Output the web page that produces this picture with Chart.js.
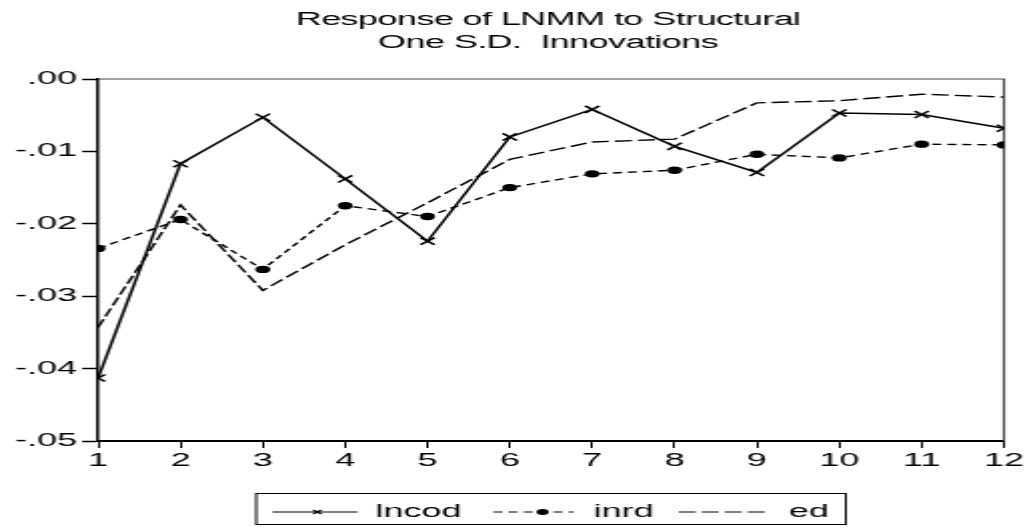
<!DOCTYPE html>
<html>
<head>
<meta charset="utf-8">
<script src="https://cdn.jsdelivr.net/npm/chart.js@4.4.1/dist/chart.umd.min.js"></script>
<style>
html,body{margin:0;padding:0;background:#fff;overflow:hidden}
</style>
</head>
<body>
<canvas id="c" width="515" height="527" style="display:block;width:1031px;height:527px"></canvas>
<script>
// ---- data ----
const periods = ['1','2','3','4','5','6','7','8','9','10','11','12'];
const lncodValues = [-0.0413,-0.0117,-0.0053,-0.0138,-0.0224,-0.0080,-0.0042,-0.0093,-0.0129,-0.0047,-0.0049,-0.0068];
const inrdValues  = [-0.0234,-0.0194,-0.0263,-0.0175,-0.0190,-0.0150,-0.0131,-0.0126,-0.0104,-0.0109,-0.0090,-0.0091];
const edValues    = [-0.0343,-0.0174,-0.0292,-0.0229,-0.0171,-0.0111,-0.0087,-0.0083,-0.0033,-0.0030,-0.0021,-0.0025];
const seriesNames = ['lncod','inrd','ed'];
const titleLines  = ['Response of LNMM to Structural','One S.D.  Innovations'];
const yMin = -0.05, yMax = 0, yStep = 0.01;

const FONT = "'Liberation Sans', Arial, sans-serif";

function fmtTick(v){
  const s = (Math.round(v*100)/100).toFixed(2);
  return s.replace('0.', '.');
}

const framePlugin = {
  id:'frame',
  beforeDatasetsDraw(chart){
    const {ctx, chartArea:a} = chart;
    ctx.save();
    ctx.strokeStyle = '#444';
    ctx.lineWidth = 1.2;
    ctx.beginPath();
    ctx.moveTo(a.left, a.top);
    ctx.lineTo(a.right, a.top);
    ctx.lineTo(a.right, a.bottom);
    ctx.stroke();
    ctx.restore();
  }
};

const titlePlugin = {
  id:'eviewsTitle',
  afterDraw(chart){
    const {ctx, chartArea:a} = chart;
    const cx = (a.left + a.right)/2 - 1.5;
    ctx.save();
    ctx.fillStyle = '#000';
    ctx.font = '18px ' + FONT;
    if ('letterSpacing' in ctx) ctx.letterSpacing = '-0.3px';
    ctx.textAlign = 'center';
    ctx.textBaseline = 'alphabetic';
    ctx.fillText(titleLines[0], cx, 25);
    ctx.fillText(titleLines[1], cx, 48);
    ctx.restore();
  }
};

const legendPlugin = {
  id:'eviewsLegend',
  afterDraw(chart){
    const ctx = chart.ctx;
    const ds = chart.data.datasets;
    const y = 512;
    ctx.save();
    ctx.strokeStyle = '#000';
    ctx.lineWidth = 1;
    ctx.strokeRect(128, 493.5, 294.5, 31);
    const items = [
      {x0:136, x1:178.5, mx:158.5, tx:187.5},
      {x0:246.5, x1:286.5, mx:271, tx:296.5},
      {x0:339, x1:385, mx:null, tx:394}
    ];
    items.forEach((it, i) => {
      const d = ds[i];
      ctx.setLineDash(d.borderDash || []);
      ctx.lineWidth = 1.2;
      ctx.beginPath();
      ctx.moveTo(it.x0, y);
      ctx.lineTo(it.x1, y);
      ctx.stroke();
      ctx.setLineDash([]);
      if (it.mx !== null) {
        if (d.pointStyle === 'crossRot') {
          ctx.lineWidth = 1.1;
          ctx.beginPath();
          ctx.moveTo(it.mx-2, y-2); ctx.lineTo(it.mx+2, y+2);
          ctx.moveTo(it.mx-2, y+2); ctx.lineTo(it.mx+2, y-2);
          ctx.stroke();
        } else {
          ctx.fillStyle = '#000';
          ctx.beginPath();
          ctx.arc(it.mx, y, 3, 0, Math.PI*2);
          ctx.fill();
        }
      }
      ctx.fillStyle = '#000';
      ctx.font = '18px ' + FONT;
      ctx.textAlign = 'left';
      ctx.textBaseline = 'middle';
      ctx.fillText(d.label, it.tx, y);
    });
    ctx.restore();
  }
};

new Chart(document.getElementById('c'), {
  type:'line',
  data:{
    labels: periods,
    datasets:[
      {label:seriesNames[0], data:lncodValues, borderColor:'#000', borderWidth:1.5,
       pointStyle:'crossRot', pointRadius:5, pointBorderWidth:1.5, pointBorderColor:'#000',
       pointBackgroundColor:'#000', fill:false, tension:0, clip:0},
      {label:seriesNames[1], data:inrdValues, borderColor:'#000', borderWidth:1.4, borderDash:[4.5,3],
       pointStyle:'circle', pointRadius:3.7, pointBorderWidth:0, pointBackgroundColor:'#000',
       pointBorderColor:'#000', fill:false, tension:0, clip:0},
      {label:seriesNames[2], data:edValues, borderColor:'#000', borderWidth:1.4, borderDash:[8.5,3],
       pointRadius:0, fill:false, tension:0, clip:0}
    ]
  },
  options:{
    responsive:false,
    animation:false,
    devicePixelRatio:1,
    events:[],
    layout:{padding:{top:79, right:13.5, left:0, bottom:0}},
    plugins:{legend:{display:false}, title:{display:false}, tooltip:{enabled:false}},
    scales:{
      x:{
        type:'category', offset:false,
        grid:{drawOnChartArea:false, drawTicks:true, tickLength:7, tickColor:'#000', tickWidth:1},
        border:{display:true, color:'#000', width:2},
        ticks:{color:'#000', font:{family:FONT, size:18}, padding:2, maxRotation:0, autoSkip:false},
        afterFit(s){ s.height = 86; }
      },
      y:{
        min:yMin, max:yMax,
        grid:{drawOnChartArea:false, drawTicks:true, tickLength:8, tickColor:'#000', tickWidth:1.5},
        border:{display:true, color:'#000', width:1.5},
        ticks:{stepSize:yStep, color:'#000', font:{family:FONT, size:18}, padding:2.5, callback:(v)=>fmtTick(v)},
        afterFit(s){ s.width = 49; }
      }
    }
  },
  plugins:[framePlugin, titlePlugin, legendPlugin]
});
</script>
</body>
</html>
